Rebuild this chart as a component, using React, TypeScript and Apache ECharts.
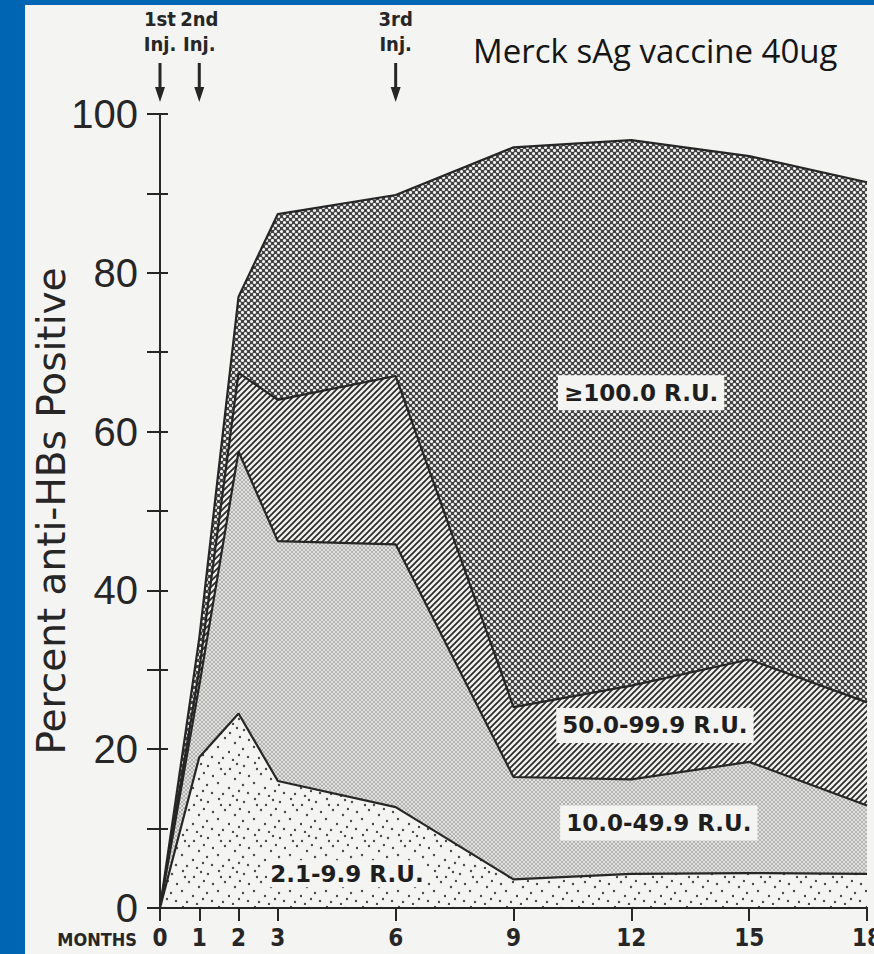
import React, { useEffect, useRef } from 'react';
import * as echarts from 'echarts';

// ---- data (percent of subjects per antibody-titre band) ----
const months = [0, 1, 2, 3, 6, 9, 12, 15, 18];
const monthTicks = [0, 1, 2, 3, 6, 9, 12, 15, 18];
const yTickValues = [0, 10, 20, 30, 40, 50, 60, 70, 80, 90, 100];
const yLabelValues = [0, 20, 40, 60, 80, 100];
const band2to10 = [0, 19, 24.5, 16, 12.7, 3.6, 4.3, 4.4, 4.3];
const band10to50 = [0, 9, 33, 30.2, 33.1, 12.9, 11.9, 14, 8.6];
const band50to100 = [0, 2, 9.9, 17.8, 21.2, 8.8, 11.8, 12.9, 13];
const band100plus = [0, 4, 9.6, 23.4, 22.8, 70.5, 68.7, 63.4, 65.5];
const bandNames = ['2.1-9.9 R.U.', '10.0-49.9 R.U.', '50.0-99.9 R.U.', '≥100.0 R.U.'];
const injMonths = [0, 1, 6];
const injNames = ['1st', '2nd', '3rd'];
const titleText = 'Merck sAg vaccine 40ug';

// label anchors in data space (month, percent)
const bandLabelAnchors: [number, number][] = [
  [4.76, 4.3],
  [12.7, 10.7],
  [12.6, 23.0],
  [12.25, 64.9],
];

const INK = '#262626';
const PAPER = '#f4f4f2';

function tile(w: number, h: number, draw: (c: CanvasRenderingContext2D) => void) {
  const cv = document.createElement('canvas');
  cv.width = w;
  cv.height = h;
  const ctx = cv.getContext('2d')!;
  draw(ctx);
  return { image: cv.toDataURL(), repeat: 'repeat', imageWidth: w, imageHeight: h } as any;
}

function dot(ctx: CanvasRenderingContext2D, x: number, y: number, r: number) {
  ctx.beginPath();
  ctx.arc(x, y, r, 0, Math.PI * 2);
  ctx.fill();
}

function makePatterns() {
  const sparse = tile(36, 36, (c) => {
    c.fillStyle = PAPER;
    c.fillRect(0, 0, 36, 36);
    c.fillStyle = '#4a4a4a';
    const pts = [
      [3, 5], [14, 2], [25, 8], [32, 3], [8, 15], [20, 13], [30, 18], [2, 24],
      [13, 22], [24, 27], [34, 30], [7, 32], [18, 33], [28, 35], [16, 8], [35, 12],
    ];
    pts.forEach(([x, y]) => dot(c, x, y, 1.2));
  });
  const fine = tile(4, 4, (c) => {
    c.fillStyle = '#e2e2e0';
    c.fillRect(0, 0, 4, 4);
    c.fillStyle = '#6a6a6a';
    dot(c, 1, 1, 0.75);
    dot(c, 3, 3, 0.75);
  });
  const hatch = tile(6, 6, (c) => {
    c.fillStyle = '#f0f0ee';
    c.fillRect(0, 0, 6, 6);
    c.strokeStyle = '#2a2a2a';
    c.lineWidth = 1.7;
    c.beginPath();
    c.moveTo(-1, 7);
    c.lineTo(7, -1);
    c.moveTo(-1, 1);
    c.lineTo(1, -1);
    c.moveTo(5, 7);
    c.lineTo(7, 5);
    c.stroke();
  });
  const cross = tile(6, 6, (c) => {
    c.fillStyle = '#434343';
    c.fillRect(0, 0, 6, 6);
    c.fillStyle = '#f2f2f2';
    dot(c, 1.5, 1.5, 1.55);
    dot(c, 4.5, 4.5, 1.55);
  });
  return [sparse, fine, hatch, cross];
}

export default function App() {
  const ref = useRef<HTMLDivElement>(null);

  useEffect(() => {
    if (!ref.current) return;
    const chart = echarts.init(ref.current, undefined, { renderer: 'svg' });
    const patterns = makePatterns();
    const bands = [band2to10, band10to50, band50to100, band100plus];
    // cumulative upper boundary of each band (bottom band first)
    const cumulative: number[][] = [];
    bands.forEach((b, i) => {
      cumulative.push(b.map((v, j) => +(v + (i > 0 ? cumulative[i - 1][j] : 0)).toFixed(2)));
    });

    const axisLineStyle = { color: INK, width: 2 };
    const condensed = '"DejaVu Sans Condensed", "Liberation Sans Narrow", "DejaVu Sans", sans-serif';

    // draw the top band first; each lower band is painted over it from the axis up
    const order = [3, 2, 1, 0];
    const series = order.map((i, k) => ({
      type: 'line',
      name: bandNames[i],
      data: months.map((m, j) => [m, cumulative[i][j]]),
      symbol: 'none',
      lineStyle: { color: INK, width: 2.2 },
      areaStyle: { color: patterns[i], opacity: 1, origin: 'start' },
      z: 2 + k,
    }));

    const option: any = {
      animation: false,
      backgroundColor: PAPER,
      title: {
        text: titleText,
        left: 443,
        top: 24,
        textStyle: { fontFamily: '"Open Sans", sans-serif', fontSize: 33, fontWeight: 'normal', color: '#151515' },
      },
      grid: { left: 135, right: 7, top: 109, bottom: 46, containLabel: false, outerBoundsMode: 'none' },
      xAxis: [
        {
          type: 'value',
          min: 0,
          max: 18,
          position: 'bottom',
          name: 'MONTHS',
          nameLocation: 'start',
          nameGap: 23,
          nameMoveOverlap: false,
          nameTextStyle: {
            fontFamily: condensed,
            fontWeight: 'bold',
            fontSize: 18,
            color: INK,
            align: 'right',
            verticalAlign: 'top',
            padding: [22, 0, 0, 0],
          },
          axisLine: { show: true, lineStyle: axisLineStyle },
          axisTick: { show: true, customValues: monthTicks, length: 13, lineStyle: axisLineStyle },
          axisLabel: {
            customValues: monthTicks,
            margin: 18,
            fontFamily: condensed,
            fontWeight: 'bold',
            fontSize: 24,
            color: INK,
          },
          splitLine: { show: false },
          z: 10,
        },
        {
          type: 'value',
          min: 0,
          max: 18,
          position: 'top',
          axisLine: { show: true, lineStyle: axisLineStyle },
          axisTick: { show: true, inside: true, customValues: monthTicks, length: 12, lineStyle: axisLineStyle },
          axisLabel: { show: false },
          splitLine: { show: false },
          z: 10,
        },
      ],
      yAxis: [
        {
          type: 'value',
          min: 0,
          max: 100,
          interval: 10,
          position: 'left',
          name: 'Percent anti-HBs Positive',
          nameLocation: 'middle',
          nameGap: 89,
          nameMoveOverlap: false,
          nameTextStyle: { fontFamily: '"DejaVu Sans", sans-serif', fontSize: 39, color: INK },
          axisLine: { show: true, lineStyle: axisLineStyle },
          axisTick: { show: true, customValues: yTickValues, length: 13, lineStyle: axisLineStyle },
          axisLabel: {
            customValues: yLabelValues,
            margin: 22,
            fontFamily: '"Liberation Sans", sans-serif',
            fontSize: 40,
            color: INK,
          },
          splitLine: { show: false },
          z: 10,
        },
        {
          type: 'value',
          min: 0,
          max: 100,
          interval: 10,
          position: 'right',
          axisLine: { show: true, lineStyle: axisLineStyle },
          axisTick: { show: true, customValues: yTickValues, length: 8, lineStyle: axisLineStyle },
          axisLabel: { show: false },
          splitLine: { show: false },
          z: 10,
        },
      ],
      series,
    };
    chart.setOption(option);

    const toPx = (m: number, v: number) => chart.convertToPixel({ gridIndex: 0 } as any, [m, v]) as number[];
    const graphics: any[] = [];
    bandLabelAnchors.forEach(([m, v], i) => {
      const [x, y] = toPx(m, v);
      graphics.push({
        type: 'text',
        x,
        y,
        z: 50,
        style: {
          text: bandNames[i],
          align: 'center',
          verticalAlign: 'middle',
          fontFamily: '"DejaVu Sans", sans-serif',
          fontWeight: 'bold',
          fontSize: 23,
          fill: '#1e1e1e',
          backgroundColor: PAPER,
          padding: i === 0 ? [2, 3, 2, 3] : [6, 6, 6, 6],
        },
      });
    });
    injMonths.forEach((m, i) => {
      const [x] = toPx(m, 100);
      graphics.push({
        type: 'text',
        x,
        y: 1,
        z: 50,
        style: {
          text: injNames[i] + '\nInj.',
          align: 'center',
          verticalAlign: 'top',
          fontFamily: condensed,
          fontWeight: 'bold',
          fontSize: 20,
          lineHeight: 25,
          fill: INK,
        },
      });
      graphics.push({
        type: 'line',
        z: 50,
        shape: { x1: x, y1: 58, x2: x, y2: 86 },
        style: { stroke: INK, lineWidth: 3 },
      });
      graphics.push({
        type: 'polygon',
        z: 50,
        shape: { points: [[x - 5, 82], [x + 5, 82], [x, 97]] },
        style: { fill: INK },
      });
    });
    chart.setOption({ graphic: { elements: graphics } });

    return () => chart.dispose();
  }, []);

  return (
    <div style={{ position: 'absolute', left: 0, top: 0, width: 874, height: 954, background: '#0066b3', overflow: 'hidden' }}>
      <div ref={ref} style={{ position: 'absolute', left: 25, top: 5, width: 849, height: 949 }} />
    </div>
  );
}
